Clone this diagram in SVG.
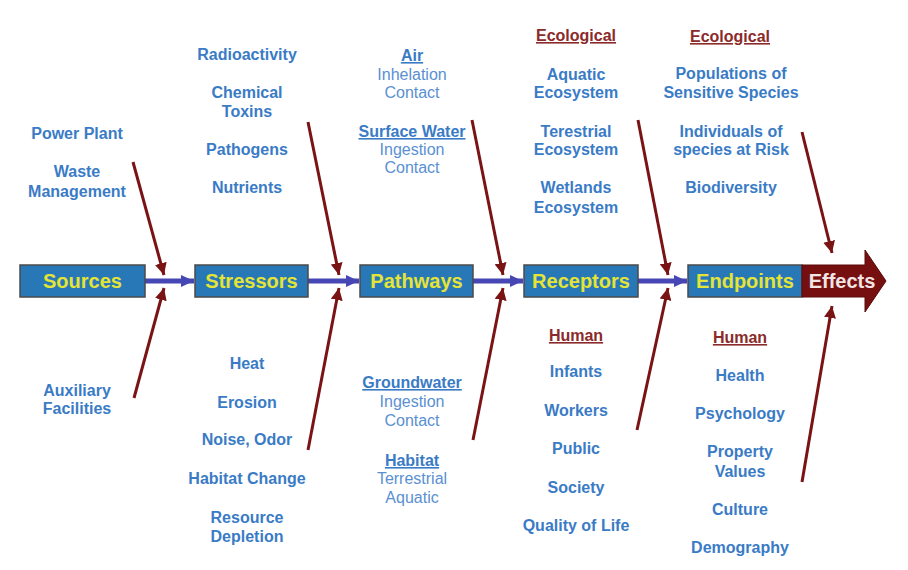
<svg xmlns="http://www.w3.org/2000/svg" width="908" height="570" viewBox="0 0 908 570">
<style>
.t{font-family:"Liberation Sans",Arial,sans-serif;font-size:16px;font-weight:bold;fill:#3a7bc6;text-anchor:middle}
.r{font-family:"Liberation Sans",Arial,sans-serif;font-size:16px;font-weight:normal;fill:#5a90d2;text-anchor:middle}
.u{text-decoration:underline}
.h{font-family:"Liberation Sans",Arial,sans-serif;font-size:16px;font-weight:bold;fill:#8b2a2a;text-anchor:middle;text-decoration:underline}
.box{fill:#2878b8;stroke:#4a4a4a;stroke-width:1.5}
.lbl{font-family:"Liberation Sans",Arial,sans-serif;font-size:20px;font-weight:bold;fill:#e4e436;text-anchor:middle}
.red{stroke:#7a1414;stroke-width:3;fill:none;marker-end:url(#rh)}
.blue{stroke:#4646b4;stroke-width:5;fill:none;marker-end:url(#bh)}
</style>
<defs>
<marker id="rh" markerUnits="userSpaceOnUse" markerWidth="14" markerHeight="12" refX="12" refY="6" orient="auto"><path d="M0,0 L12,6 L0,12 Z" fill="#7a1414"/></marker>
<marker id="bh" markerUnits="userSpaceOnUse" markerWidth="14" markerHeight="12" refX="13" refY="6" orient="auto"><path d="M0,0 L13,6 L0,12 Z" fill="#4646b4"/></marker>
</defs>
<rect width="908" height="570" fill="#ffffff"/>
<g id="connectors">
<line class="blue" x1="145" y1="281" x2="194" y2="281"/>
<line class="blue" x1="308" y1="281" x2="359" y2="281"/>
<line class="blue" x1="473" y1="281" x2="523" y2="281"/>
<line class="blue" x1="638" y1="281" x2="687" y2="281"/>
<line class="red" x1="133" y1="162" x2="164" y2="275"/>
<line class="red" x1="134" y1="398" x2="164" y2="288"/>
<line class="red" x1="308" y1="122" x2="339" y2="275"/>
<line class="red" x1="308" y1="450" x2="339" y2="288"/>
<line class="red" x1="472" y1="120" x2="503" y2="275"/>
<line class="red" x1="473" y1="440" x2="503" y2="288"/>
<line class="red" x1="638" y1="120" x2="668" y2="275"/>
<line class="red" x1="637" y1="430" x2="668" y2="288"/>
<line class="red" x1="802" y1="132" x2="832" y2="253"/>
<line class="red" x1="802" y1="482" x2="832" y2="306"/>
</g>
<g id="sources">
<rect class="box" x="20" y="265" width="125" height="32"/>
<text class="lbl" x="82.5" y="288">Sources</text>
<text class="t" x="77" y="139">Power Plant</text>
<text class="t" x="77" y="177">Waste</text>
<text class="t" x="77" y="197">Management</text>
<text class="t" x="77" y="396">Auxiliary</text>
<text class="t" x="77" y="414">Facilities</text>
</g>
<g id="stressors">
<rect class="box" x="195" y="265" width="113" height="32"/>
<text class="lbl" x="251.5" y="288">Stressors</text>
<text class="t" x="247" y="60">Radioactivity</text>
<text class="t" x="247" y="98">Chemical</text>
<text class="t" x="247" y="117">Toxins</text>
<text class="t" x="247" y="155">Pathogens</text>
<text class="t" x="247" y="193">Nutrients</text>
<text class="t" x="247" y="369">Heat</text>
<text class="t" x="247" y="408">Erosion</text>
<text class="t" x="247" y="445">Noise, Odor</text>
<text class="t" x="247" y="484">Habitat Change</text>
<text class="t" x="247" y="523">Resource</text>
<text class="t" x="247" y="542">Depletion</text>
</g>
<g id="pathways">
<rect class="box" x="360" y="265" width="113" height="32"/>
<text class="lbl" x="416.5" y="288">Pathways</text>
<text class="t u" x="412" y="61">Air</text>
<text class="r" x="412" y="80">Inhelation</text>
<text class="r" x="412" y="98">Contact</text>
<text class="t u" x="412" y="137">Surface Water</text>
<text class="r" x="412" y="155">Ingestion</text>
<text class="r" x="412" y="173">Contact</text>
<text class="t u" x="412" y="388">Groundwater</text>
<text class="r" x="412" y="407">Ingestion</text>
<text class="r" x="412" y="426">Contact</text>
<text class="t u" x="412" y="466">Habitat</text>
<text class="r" x="412" y="484">Terrestrial</text>
<text class="r" x="412" y="503">Aquatic</text>
</g>
<g id="receptors">
<rect class="box" x="524" y="265" width="114" height="32"/>
<text class="lbl" x="581" y="288">Receptors</text>
<text class="h" x="576" y="41">Ecological</text>
<text class="t" x="576" y="80">Aquatic</text>
<text class="t" x="576" y="98">Ecosystem</text>
<text class="t" x="576" y="137">Terestrial</text>
<text class="t" x="576" y="155">Ecosystem</text>
<text class="t" x="576" y="193">Wetlands</text>
<text class="t" x="576" y="213">Ecosystem</text>
<text class="h" x="576" y="341">Human</text>
<text class="t" x="576" y="377">Infants</text>
<text class="t" x="576" y="416">Workers</text>
<text class="t" x="576" y="454">Public</text>
<text class="t" x="576" y="493">Society</text>
<text class="t" x="576" y="531">Quality of Life</text>
</g>
<g id="endpoints">
<rect class="box" x="688" y="265" width="114" height="32"/>
<text class="lbl" x="745" y="288">Endpoints</text>
<text class="h" x="730" y="42">Ecological</text>
<text class="t" x="731" y="79">Populations of</text>
<text class="t" x="731" y="98">Sensitive Species</text>
<text class="t" x="731" y="137">Individuals of</text>
<text class="t" x="731" y="155">species at Risk</text>
<text class="t" x="731" y="193">Biodiversity</text>
<text class="h" x="740" y="343">Human</text>
<text class="t" x="740" y="381">Health</text>
<text class="t" x="740" y="419">Psychology</text>
<text class="t" x="740" y="457">Property</text>
<text class="t" x="740" y="477">Values</text>
<text class="t" x="740" y="515">Culture</text>
<text class="t" x="740" y="553">Demography</text>
</g>
<g id="effects">
<polygon points="802,265 865,265 865,250 886,281 865,312 865,297 802,297" fill="#761010" stroke="#5a0a0a" stroke-width="1"/>
<text x="842" y="288" font-family="Liberation Sans, Arial, sans-serif" font-size="20" font-weight="bold" fill="#f2e4e4" text-anchor="middle">Effects</text>
</g>
</svg>
